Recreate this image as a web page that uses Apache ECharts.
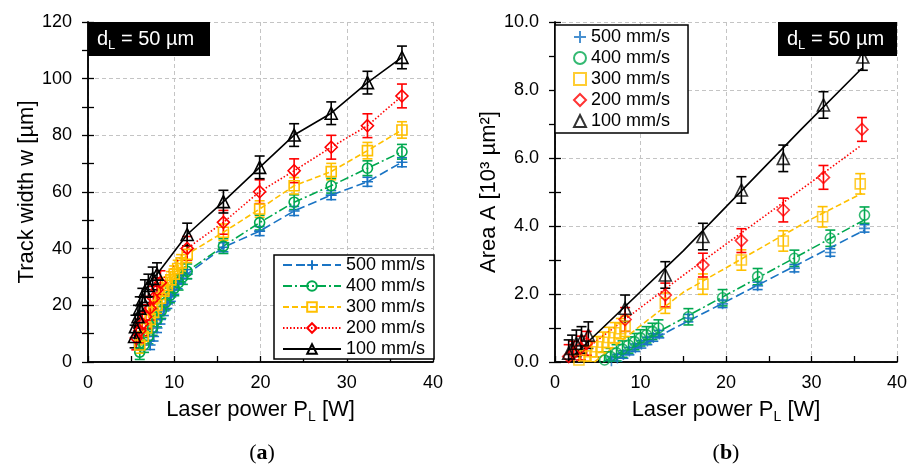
<!DOCTYPE html>
<html><head><meta charset="utf-8">
<script src="https://cdn.jsdelivr.net/npm/echarts@6/dist/echarts.min.js"></script>
<style>html,body{margin:0;padding:0;background:#fff}#c{width:913px;height:469px}</style>
</head><body><div id="c"></div>
<script>
// ---------- data ----------
const speeds = ['500 mm/s','400 mm/s','300 mm/s','200 mm/s','100 mm/s'];
const xTicks = [0,10,20,30,40];
const yTicksA = [0,20,40,60,80,100,120];
const yTicksB = [0,2,4,6,8,10];

// (a) track width
const xA500 = [7.2,7.6,8.0,8.4,8.8,9.2,9.6,10.0,10.4,10.8,11.5,15.7,19.9,23.9,28.2,32.4,36.4];
const yA500 = [6,9,12,15,18,20.5,23,25.5,27.5,29.5,31,40.5,46.2,53.3,58.9,63.6,70.5];
const xA400 = [6.0,6.5,7.0,7.5,8.0,8.5,9.0,9.5,10.0,10.5,11.0,11.5,15.7,19.9,23.9,28.2,32.4,36.4];
const yA400 = [3.5,6,9,12,15,18,21,23.5,26,28,30,32,40.9,49.2,56.4,62.2,68.4,74.2];
const xA300 = [6.0,6.4,6.8,7.2,7.6,8.0,8.4,8.8,9.2,9.6,10.0,10.4,10.8,11.5,15.7,19.9,23.9,28.2,32.4,36.4];
const yA300 = [6,9,12,15,17.5,20,22.5,25,27,29,31,33,35,38,45.8,54.0,62.2,67.2,74.6,81.9];
const xA200 = [5.6,6.0,6.3,6.7,7.2,7.6,8.0,8.4,11.5,15.7,19.9,23.9,28.2,32.4,36.4];
const yA200 = [8.5,11,13.5,16,19,22.5,25.5,28,40.1,49.3,60.1,67.5,75.8,83.4,93.9];
const xA100 = [5.4,5.5,5.8,6.0,6.3,6.6,7.0,7.5,8.0,11.5,15.7,19.9,23.9,28.2,32.4,36.4];
const yA100 = [9,12.5,16,19,22,25,27,29.5,31,45,56.6,68.7,80.1,87.8,98.6,107.5];
const errA = [1.6,2.6,2.9,4.2,4.0];

// (b) area
const xB500 = [6.6,7.3,8.0,8.7,9.4,10.1,10.8,11.5,12.2,15.6,19.6,23.7,28.0,32.2,36.2];
const yB500 = [0.04,0.12,0.22,0.32,0.42,0.52,0.62,0.72,0.82,1.29,1.71,2.24,2.76,3.22,3.93];
const xB400 = [5.8,6.5,7.2,7.9,8.6,9.3,10.0,10.7,11.4,12.1,15.6,19.6,23.7,28.0,32.2,36.2];
const yB400 = [0.06,0.16,0.27,0.38,0.50,0.60,0.71,0.80,0.90,1.00,1.33,1.89,2.51,3.05,3.64,4.32];
const xB300 = [2.8,3.5,4.2,4.9,5.6,6.3,7.0,7.7,8.2,12.9,17.3,21.8,26.7,31.3,35.7];
const yB300 = [0.06,0.18,0.30,0.45,0.58,0.72,0.86,0.98,1.05,1.73,2.29,3.00,3.56,4.27,5.24];
const xB200 = [1.6,2.2,3.0,3.7,8.2,12.9,17.3,21.8,26.7,31.4,35.9];
const yB200 = [0.16,0.26,0.41,0.55,1.25,1.97,2.85,3.57,4.47,5.43,6.84];
const xB100 = [1.6,2.0,2.5,3.1,3.9,8.2,12.9,17.3,21.8,26.7,31.4,36.0];
const yB100 = [0.26,0.40,0.55,0.65,0.79,1.58,2.56,3.69,5.06,5.99,7.56,8.97];
const errB = [0.11,0.24,0.30,0.35,0.39];

// (b) fit lines
const fitXB500 = [6.3,36.2];
const fitYB500 = [0,3.88];
const fitXB400 = [5.6,36.2];
const fitYB400 = [0,4.18];
const fitXB300 = [4.6,15,29.8,35.9];
const fitYB300 = [0,2.05,4.18,4.96];
const fitXB200 = [1.6,15,29.8,35.7];
const fitYB200 = [0,2.55,5.26,6.35];
const fitXB100 = [1.4,15,28.7,35.9];
const fitYB100 = [0,3.27,6.82,8.64];

// ---------- styles ----------
const colors = ['#1a74c4','#00a84f','#ffc000','#ff0000','#000000'];
const symbols = ['path://M5,0L5,10M0,5L10,5','circle','rect','diamond','triangle'];
const symSizes = [11,10,10,12,12];
const dashes = [[9,4],[9,3,2,3],[6,3],[1.5,2],'solid'];
const FONT = 'Liberation Sans, Arial, sans-serif';
const SERIF = 'Liberation Serif, Times New Roman, serif';

const xsA = [xA500,xA400,xA300,xA200,xA100], ysA = [yA500,yA400,yA300,yA200,yA100];
const xsB = [xB500,xB400,xB300,xB200,xB100], ysB = [yB500,yB400,yB300,yB200,yB100];
const fxB = [fitXB500,fitXB400,fitXB300,fitXB200,fitXB100], fyB = [fitYB500,fitYB400,fitYB300,fitYB200,fitYB100];

function zip(a,b){return a.map((v,i)=>[v,b[i]]);}
function errSeries(xs, ys, e, color, xi, yi){
  return {type:'custom', xAxisIndex:xi, yAxisIndex:yi, silent:true, clip:true, z:2,
    data: xs.map((x,k)=>[x, ys[k]-e, ys[k]+e]),
    encode:{x:0, y:[1,2]},
    renderItem(params, api){
      const a = api.coord([api.value(0), api.value(1)]);
      const b = api.coord([api.value(0), api.value(2)]);
      const w = 5, st = {stroke:color, lineWidth:1.6};
      return {type:'group', children:[
        {type:'line', shape:{x1:a[0],y1:a[1],x2:b[0],y2:b[1]}, style:st},
        {type:'line', shape:{x1:a[0]-w,y1:a[1],x2:a[0]+w,y2:a[1]}, style:st},
        {type:'line', shape:{x1:b[0]-w,y1:b[1],x2:b[0]+w,y2:b[1]}, style:st}
      ]};
    }};
}
function markerStyle(i){
  return {color: i===0 ? colors[i] : 'rgba(255,255,255,0)', borderColor: colors[i], borderWidth: 1.6};
}

const series = [];
for (let i=0;i<5;i++){
  series.push(errSeries(xsA[i], ysA[i], errA[i], colors[i], 0, 0));
  series.push({type:'line', name:speeds[i], xAxisIndex:0, yAxisIndex:0, z:3,
    data: zip(xsA[i], ysA[i]), symbol:symbols[i], symbolSize:symSizes[i], showSymbol:true,
    lineStyle:{color:colors[i], width:1.6, type:dashes[i]}, itemStyle:markerStyle(i)});
}
for (let i=0;i<5;i++){
  series.push(errSeries(xsB[i], ysB[i], errB[i], colors[i], 2, 2));
  series.push({type:'scatter', name:'B '+speeds[i], xAxisIndex:2, yAxisIndex:2, z:3,
    data: zip(xsB[i], ysB[i]), symbol:symbols[i], symbolSize:symSizes[i], itemStyle:markerStyle(i)});
  series.push({type:'line', name:'fit'+i, xAxisIndex:2, yAxisIndex:2, z:3,
    data: zip(fxB[i], fyB[i]), showSymbol:false, symbol:'none',
    lineStyle:{color:colors[i], width:1.6, type:dashes[i]}});
}

const subRich = {
  a:{fontSize:22, lineHeight:28, color:'#000', fontFamily:FONT},
  s:{fontSize:14, lineHeight:12, color:'#000', verticalAlign:'bottom', fontFamily:FONT}
};
const gridLine = {show:true, lineStyle:{color:'#c4c4c4', type:[4,3], width:1}};
const axLine = {show:true, lineStyle:{color:'#000', width:1.5}};
function xMain(grid, name){
  return {type:'value', gridIndex:grid, min:0, max:40, interval:10, position:'bottom',
    axisLine:axLine, axisTick:{show:true, inside:true, length:6, lineStyle:{color:'#000', width:1.3}},
    minorTick:{show:true, splitNumber:2, length:6, lineStyle:{color:'#000', width:1.3}},
    splitLine:gridLine, minorSplitLine:{show:false},
    axisLabel:{fontSize:18, color:'#000', fontFamily:FONT, margin:12, formatter:v=>xTicks.includes(v)?String(v):''},
    name:name, nameLocation:'middle', nameGap:34,
    nameTextStyle:{fontSize:22, color:'#000', fontFamily:FONT, rich:subRich}};
}
function xTop(grid){
  return {type:'value', gridIndex:grid, min:0, max:40, interval:10, position:'top',
    axisLine:axLine, axisTick:{show:false}, axisLabel:{show:false}, splitLine:{show:false}};
}
function yMain(grid, max, interval, fmt, name, gap){
  return {type:'value', gridIndex:grid, min:0, max:max, interval:interval, position:'left',
    axisLine:axLine, axisTick:{show:true, inside:true, length:6, lineStyle:{color:'#000', width:1.3}},
    minorTick:{show:true, splitNumber:2, length:6, lineStyle:{color:'#000', width:1.3}},
    splitLine:gridLine,
    axisLabel:{fontSize:18, color:'#000', fontFamily:FONT, margin:16, formatter:fmt},
    name:name, nameLocation:'middle', nameGap:gap,
    nameTextStyle:{fontSize:22, color:'#000', fontFamily:FONT}};
}
function yRight(grid, max, interval){
  return {type:'value', gridIndex:grid, min:0, max:max, interval:interval, position:'right',
    axisLine:axLine, axisTick:{show:true, inside:true, length:6, lineStyle:{color:'#000', width:1.3}},
    minorTick:{show:true, splitNumber:2, length:6, lineStyle:{color:'#000', width:1.3}},
    axisLabel:{show:false}, splitLine:{show:false}};
}

const option = {
  animation:false,
  grid:[
    {left:88, right:480, top:22, bottom:107},
    {left:555, right:16, top:22, bottom:107}
  ],
  xAxis:[xMain(0,'{a|Laser power P}{s|L}{a| [W]}'), xTop(0), xMain(1,'{a|Laser power P}{s|L}{a| [W]}'), xTop(1)],
  yAxis:[
    yMain(0,120,20,v=>yTicksA.includes(v)?String(v):'','Track width w [µm]',48), yRight(0,120,20),
    yMain(1,10,2,v=>yTicksB.includes(v)?v.toFixed(1):'','Area A [10³ µm²]',47), yRight(1,10,2)
  ],
  legend:[
    {data:speeds, orient:'vertical', left:274, top:255, itemWidth:58, itemHeight:12, itemGap:3,
     padding:[1,9,1,8], borderColor:'#000', borderWidth:1.5, backgroundColor:'#fff',
     selectedMode:false, textStyle:{fontSize:18, color:'#000', fontFamily:FONT}},
    {data:speeds.map(s=>'B '+s), orient:'vertical', left:555, top:25, itemWidth:12, itemHeight:12, itemGap:3,
     padding:[3,18,3,18], borderColor:'#000', borderWidth:1.5, backgroundColor:'#fff',
     selectedMode:false, formatter:n=>n.slice(2), textStyle:{fontSize:18, color:'#000', fontFamily:FONT}}
  ],
  graphic:[
    {type:'rect', x:88, y:22, shape:{width:122, height:34}, style:{fill:'#000'}, z:10},
    {type:'text', x:97, y:39, z:11, style:{text:'{a|d}{s|L}{a| = 50 µm}', verticalAlign:'middle', fill:'#fff',
      rich:{a:{fontSize:20, lineHeight:26, fill:'#fff', fontFamily:FONT}, s:{fontSize:13, lineHeight:12, verticalAlign:'bottom', fill:'#fff', fontFamily:FONT}}}},
    {type:'rect', x:778, y:22, shape:{width:119, height:34}, style:{fill:'#000'}, z:10},
    {type:'text', x:787, y:39, z:11, style:{text:'{a|d}{s|L}{a| = 50 µm}', verticalAlign:'middle', fill:'#fff',
      rich:{a:{fontSize:20, lineHeight:26, fill:'#fff', fontFamily:FONT}, s:{fontSize:13, lineHeight:12, verticalAlign:'bottom', fill:'#fff', fontFamily:FONT}}}},
    {type:'text', x:262, y:453, z:11, style:{text:'({b|a})', align:'center', verticalAlign:'middle', fill:'#000',
      font:'22px '+SERIF, rich:{b:{fontWeight:'bold', fontSize:22, fontFamily:SERIF, fill:'#000'}}}},
    {type:'text', x:726, y:453, z:11, style:{text:'({b|b})', align:'center', verticalAlign:'middle', fill:'#000',
      font:'22px '+SERIF, rich:{b:{fontWeight:'bold', fontSize:22, fontFamily:SERIF, fill:'#000'}}}}
  ],
  series:series
};
echarts.init(document.getElementById('c'), null, {renderer:'canvas'}).setOption(option);
</script></body></html>
